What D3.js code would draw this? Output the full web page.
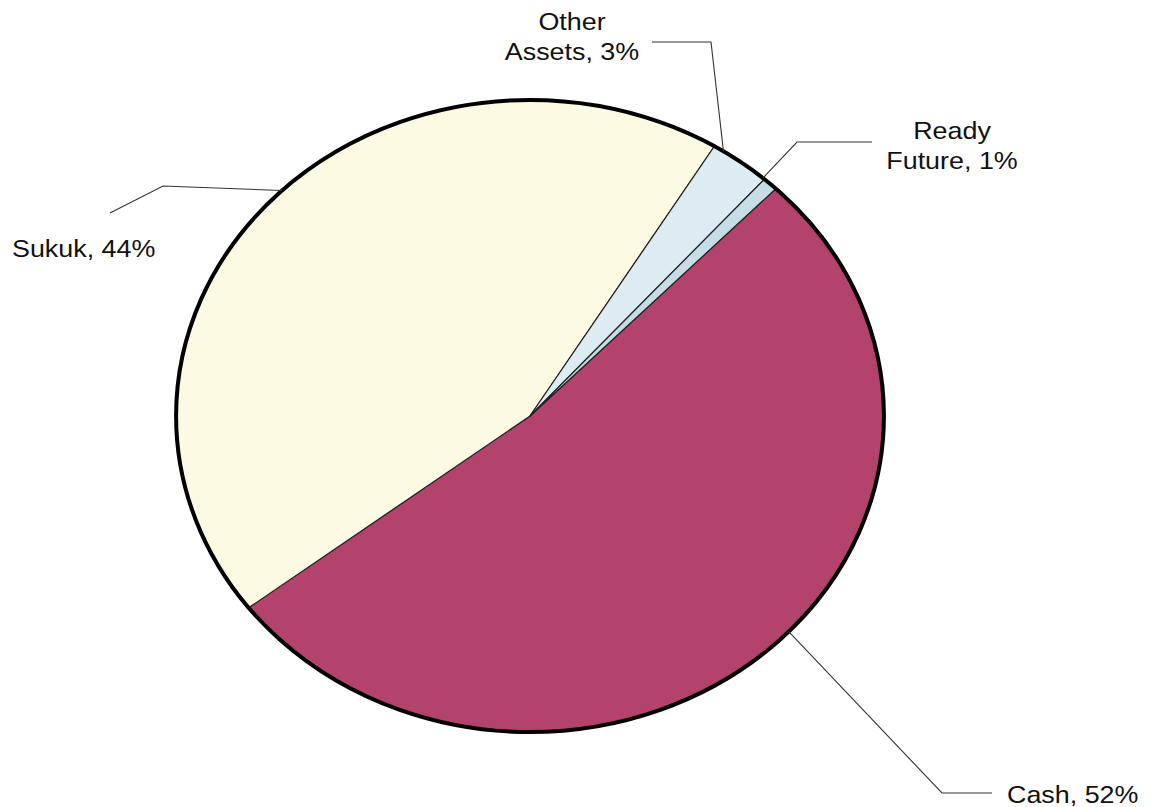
<!DOCTYPE html>
<html>
<head>
<meta charset="utf-8">
<script src="https://cdn.jsdelivr.net/npm/d3@7"></script>
<style>
  html, body { margin: 0; padding: 0; background: #fff; }
  svg { display: block; }
</style>
</head>
<body>
<div id="chart"></div>
<script>
// Portfolio composition (percent of net assets)
const categories = ['Cash', 'Sukuk', 'Other Assets', 'Ready Future'];
const values = [52.4, 44.1, 2.8, 0.7];
const colors = ['#b3436d', '#fcfae2', '#dcecf2', '#c6dde6'];

const width = 1152, height = 807;
const cx = 530, cy = 416;
const ry = 316, stretch = 1.12;   // the whole picture is a bit wider than tall
const startDeg = 44;

const svg = d3.select('#chart')
    .append('svg')
    .attr('width', width)
    .attr('height', height);

const pie = d3.pie()
    .sort(null)
    .value(d => d.value)
    .startAngle(startDeg * Math.PI / 180)
    .endAngle(startDeg * Math.PI / 180 + 2 * Math.PI);

const data = categories.map((c, i) => ({ name: c, value: values[i], color: colors[i] }));
const arcs = pie(data);

const arc = d3.arc().innerRadius(0).outerRadius(ry);

const pieG = svg.append('g')
    .attr('transform', `translate(${cx},${cy}) scale(${stretch},1)`);

pieG.selectAll('path.slice')
    .data(arcs)
    .enter()
    .append('path')
    .attr('class', 'slice')
    .attr('d', arc)
    .attr('fill', d => d.data.color)
    .attr('stroke', '#222')
    .attr('stroke-width', 1.2)
    .attr('vector-effect', 'non-scaling-stroke');

pieG.append('circle')
    .attr('r', ry)
    .attr('fill', 'none')
    .attr('stroke', '#000')
    .attr('stroke-width', 4)
    .attr('vector-effect', 'non-scaling-stroke');

// label layout: anchor angle offset from slice middle, leader elbow/end, text position
const labelLayout = {
    'Cash':         { off: -5.3, pts: [[942, 793], [992, 793]], x: 1007, y: 803, anchor: 'start' },
    'Sukuk':        { off: 3.5,  pts: [[163, 186], [110, 213]], x: 12,   y: 257, anchor: 'start' },
    'Other Assets': { off: -3.3, pts: [[711, 42], [652, 42]],   x: 572,  y: 30,  anchor: 'middle' },
    'Ready Future': { off: -1.6, pts: [[797, 142], [872, 142]], x: 952,  y: 139, anchor: 'middle' }
};

const edgePoint = deg => {
    const a = deg * Math.PI / 180;
    return [cx + ry * stretch * Math.sin(a), cy - ry * Math.cos(a)];
};

const line = d3.line();

arcs.forEach(d => {
    const lay = labelLayout[d.data.name];
    const mid = (d.startAngle + d.endAngle) / 2 * 180 / Math.PI;
    const start = edgePoint(mid + lay.off);

    svg.append('path')
        .attr('d', line([start, ...lay.pts]))
        .attr('fill', 'none')
        .attr('stroke', '#333')
        .attr('stroke-width', 1.1);

    const pct = Math.round(d.data.value) + '%';
    const words = d.data.name.split(' ');
    const lines = words.length > 1 && lay.anchor === 'middle'
        ? [words[0], words.slice(1).join(' ') + ', ' + pct]
        : [d.data.name + ', ' + pct];

    const t = svg.append('text')
        .attr('transform', `translate(${lay.x},${lay.y}) scale(${stretch},1)`)
        .attr('text-anchor', lay.anchor)
        .attr('font-family', '"Liberation Sans", Arial, sans-serif')
        .attr('font-size', 24)
        .attr('fill', '#111');

    lines.forEach((l, i) => {
        t.append('tspan')
            .attr('x', 0)
            .attr('y', i * 30)
            .text(l);
    });
});
</script>
</body>
</html>
